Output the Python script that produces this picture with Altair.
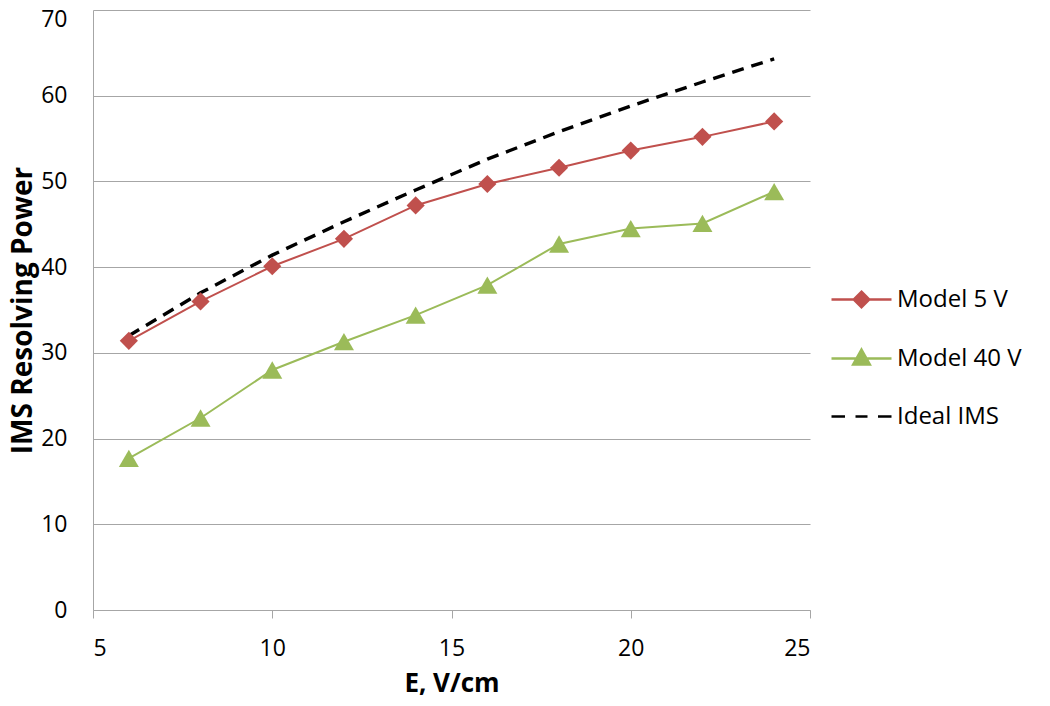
import altair as alt
import pandas as pd

E = [6, 8, 10, 12, 14, 16, 18, 20, 22, 24]
model_5v = [31.4, 36.0, 40.1, 43.3, 47.2, 49.7, 51.6, 53.6, 55.2, 57.0]
model_40v = [17.7, 22.4, 28.0, 31.3, 34.4, 37.9, 42.7, 44.5, 45.1, 48.8]
ideal_ims = [32.0, 37.0, 41.4, 45.3, 49.0, 52.6, 55.8, 58.8, 61.6, 64.3]

series_names = ["Model 5 V", "Model 40 V", "Ideal IMS"]
series_colors = ["#C0504D", "#9BBB59", "#000000"]
legend_paths = [
    "M-1,0L1,0M0,-0.26L0.26,0L0,0.26L-0.26,0Z",
    "M-1,0L1,0M0,-0.3L0.28,0.2L-0.28,0.2Z",
    "M-1,0L-0.55,0M-0.2,0L0.2,0M0.55,0L1,0",
]

rows = []
for name, vals in zip(series_names, [model_5v, model_40v, ideal_ims]):
    for e, v in zip(E, vals):
        rows.append({"E": e, "R": v, "series": name})
df = pd.DataFrame(rows)

FONT = "Open Sans"
GRID = "#A6A6A6"

x_enc = alt.X(
    "E:Q",
    scale=alt.Scale(domain=[5, 25], nice=False, zero=False),
    axis=alt.Axis(
        values=[5, 10, 15, 20, 25], title="E, V/cm", grid=False,
        tickSize=8, tickColor=GRID, domainColor=GRID,
        labelFontSize=23, labelPadding=19, labelColor="#000000",
        titleFontSize=26, titleFontWeight="bold", titlePadding=10,
        titleColor="#000000", labelFont=FONT, titleFont=FONT,
    ),
)
y_enc = alt.Y(
    "R:Q",
    scale=alt.Scale(domain=[0, 70], nice=False),
    axis=alt.Axis(
        values=[0, 10, 20, 30, 40, 50, 60, 70], title="IMS Resolving Power",
        grid=True, gridColor=GRID, gridWidth=1.2, ticks=False, tickSize=0,
        domainColor=GRID, labelFontSize=23, labelPadding=26,
        labelOffset={"condition": {"test": "datum.value == 70", "value": 9}, "value": 0},
        labelColor="#000000", titleFontSize=28, titleFontWeight="bold",
        titlePadding=3, titleColor="#000000", labelFont=FONT, titleFont=FONT,
    ),
)
color_enc = alt.Color(
    "series:N", scale=alt.Scale(domain=series_names, range=series_colors), legend=None
)

model_lines = alt.Chart(df).transform_filter(
    alt.datum.series != "Ideal IMS"
).mark_line(strokeWidth=2).encode(x=x_enc, y=y_enc, color=color_enc)

ideal_line = alt.Chart(df).transform_filter(
    alt.datum.series == "Ideal IMS"
).mark_line(strokeWidth=3.4, strokeDash=[12, 8]).encode(x=x_enc, y=y_enc, color=color_enc)

pts_5v = alt.Chart(df).transform_filter(
    alt.datum.series == "Model 5 V"
).mark_point(filled=True, opacity=1, size=330, shape="diamond").encode(
    x=x_enc, y=y_enc, color=color_enc
)

pts_40v = alt.Chart(df).transform_filter(
    alt.datum.series == "Model 40 V"
).mark_point(filled=True, opacity=1, size=400, shape="triangle-up").encode(
    x=x_enc, y=y_enc, color=color_enc
)

leg = alt.Legend(
    title=None, orient="none", legendX=737, legendY=258,
    symbolSize=3600, symbolStrokeWidth=2.4, labelFontSize=24,
    labelFont=FONT, labelColor="#000000", labelOffset=4,
    rowPadding=14, padding=0, symbolOpacity=1,
)

# invisible layer that only carries the legend
legend_layer = alt.Chart(df).mark_point(strokeWidth=2.4, opacity=0, size=1).encode(
    x=x_enc, y=y_enc,
    fill=alt.Fill("series:N", scale=alt.Scale(domain=series_names, range=series_colors), legend=leg),
    stroke=alt.Stroke("series:N", scale=alt.Scale(domain=series_names, range=series_colors), legend=leg),
    shape=alt.Shape("series:N", scale=alt.Scale(domain=series_names, range=legend_paths), legend=leg),
)

chart = (
    alt.layer(model_lines, ideal_line, pts_5v, pts_40v, legend_layer)
    .resolve_scale(shape="independent", fill="independent", stroke="independent")
    .properties(
        width=717, height=600,
        autosize=alt.AutoSizeParams(type="none"),
        padding={"left": 85, "top": 2, "right": 232, "bottom": 88},
        background="white",
    )
    .configure_view(stroke=None)
)

chart.save("out.html", embed_options={"renderer": "svg", "actions": False})
